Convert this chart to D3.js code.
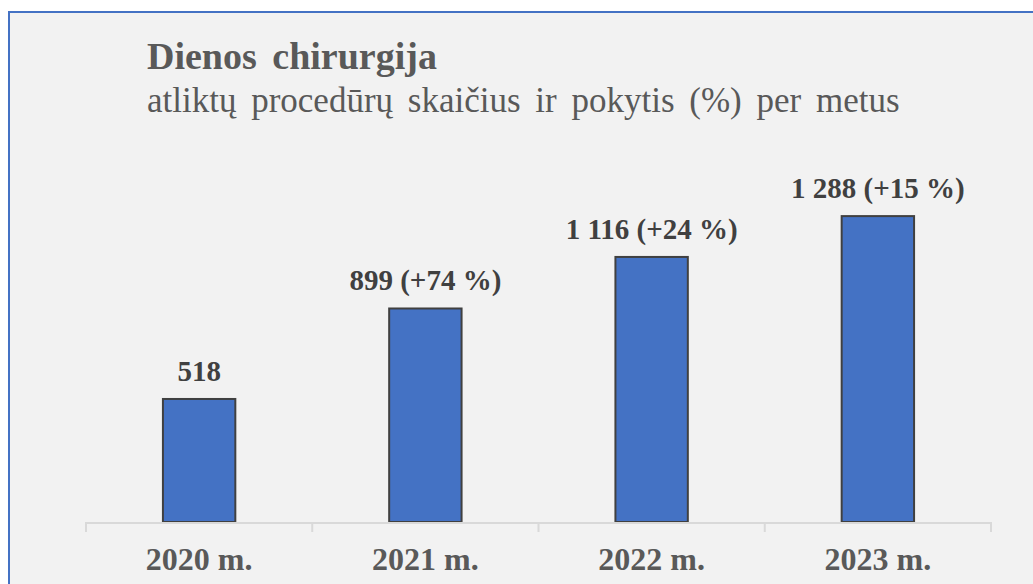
<!DOCTYPE html>
<html>
<head>
<meta charset="utf-8">
<script src="https://cdn.jsdelivr.net/npm/d3@7"></script>
<style>
  html, body { margin: 0; padding: 0; background: #ffffff; }
  svg { display: block; }
  text { font-family: "Liberation Serif", "Times New Roman", serif; }
</style>
</head>
<body>
<svg id="plot1"></svg>
<script>
var years = ['2020 m.', '2021 m.', '2022 m.', '2023 m.'];
var counts = [518, 899, 1116, 1288];
var changes = [null, '+74 %', '+24 %', '+15 %'];

function init() {
    var w = 1033;
    var h = 584;
    var x0 = 86, x1 = 991;
    var base = 522;

    var svg = d3.select('#plot1').attr('width', w).attr('height', h);

    // panel with blue frame
    svg.append('rect')
        .attr('x', 9).attr('y', 12)
        .attr('width', w + 20).attr('height', h + 20)
        .attr('fill', '#f2f2f2')
        .attr('stroke', '#4472c4')
        .attr('stroke-width', 2);

    svg.append('text')
        .attr('x', 147).attr('y', 69)
        .attr('font-size', 38).attr('font-weight', 'bold')
        .attr('word-spacing', 6)
        .attr('fill', '#595959')
        .text('Dienos chirurgija');

    svg.append('text')
        .attr('x', 147).attr('y', 112)
        .attr('font-size', 35)
        .attr('word-spacing', 6)
        .attr('fill', '#595959')
        .text('atliktų procedūrų skaičius ir pokytis (%) per metus');

    var xs = d3.scaleBand().domain(years).range([x0, x1]).paddingInner(0.68).paddingOuter(0.34);
    var ys = d3.scaleLinear().domain([0, 1400]).range([base, base - 1400 * 0.2375]);

    var g = svg.append('g');

    g.selectAll('rect.bar')
        .data(counts)
        .enter()
        .append('rect')
        .attr('class', 'bar')
        .attr('x', function(d, i) { return xs(years[i]); })
        .attr('width', xs.bandwidth())
        .attr('y', function(d) { return ys(d); })
        .attr('height', function(d) { return base - ys(d); })
        .attr('fill', '#4472c4')
        .attr('stroke', '#404040')
        .attr('stroke-width', 2);

    g.selectAll('text.val')
        .data(counts)
        .enter()
        .append('text')
        .attr('class', 'val')
        .attr('x', function(d, i) { return xs(years[i]) + xs.bandwidth() / 2; })
        .attr('y', function(d) { return ys(d) - 18; })
        .attr('text-anchor', 'middle')
        .attr('font-size', 29).attr('font-weight', 'bold')
        .attr('fill', '#404040')
        .text(function(d, i) {
            var s = d3.format(',')(d).replace(',', ' ');
            return changes[i] ? s + ' (' + changes[i] + ')' : s;
        });

    // category axis
    var axis = d3.axisBottom(xs).tickSize(0).tickPadding(0);
    var ax = svg.append('g').attr('transform', 'translate(0,' + base + ')').call(axis);
    ax.select('.domain').remove();
    ax.selectAll('text')
        .attr('y', 48).attr('dy', 0)
        .attr('font-size', 32).attr('font-weight', 'bold')
        .attr('fill', '#595959');

    var bounds = d3.range(years.length + 1).map(function(i) { return x0 + i * (x1 - x0) / years.length; });
    svg.append('line')
        .attr('x1', x0).attr('x2', x1).attr('y1', base + 1).attr('y2', base + 1)
        .attr('stroke', '#d9d9d9').attr('stroke-width', 2);
    svg.selectAll('line.tick')
        .data(bounds)
        .enter()
        .append('line')
        .attr('class', 'tick')
        .attr('x1', function(d) { return d; }).attr('x2', function(d) { return d; })
        .attr('y1', base).attr('y2', base + 10)
        .attr('stroke', '#d9d9d9').attr('stroke-width', 2);
}
init();
</script>
</body>
</html>
